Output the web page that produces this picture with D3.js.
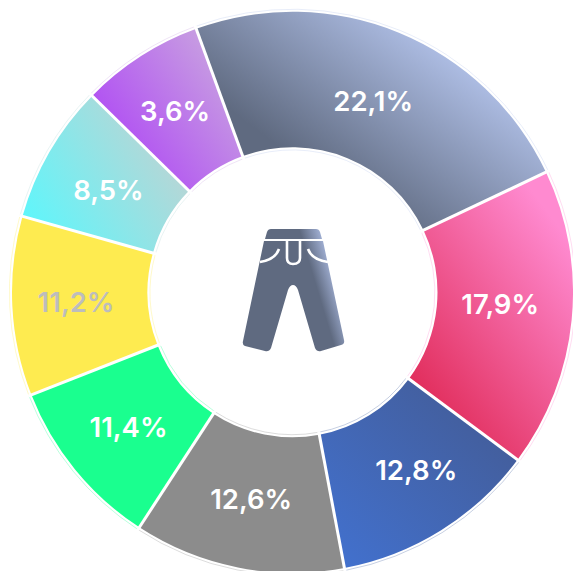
<!DOCTYPE html>
<html><head><meta charset="utf-8">
<style>html,body{margin:0;padding:0;background:#fff;overflow:hidden}svg{display:block}</style>
<script src="https://cdn.jsdelivr.net/npm/d3@7/dist/d3.min.js"></script></head>
<body><svg id="c" width="573" height="571"></svg>
<script>
const labels = ["22,1%","17,9%","12,8%","12,6%","11,4%","11,2%","8,5%","3,6%"];
const shares = [23.53,17.22,11.85,12.15,9.85,10.32,7.97,7.08];
const colorFrom = ["#5f6a80","#e2305f","#4270cc","#8c8c8c","#1aff8f","#feeb50","#5ff6fb","#b254f2"];
const colorTo   = ["#b4c4ec","#ff8ad0","#435f9f","#8c8c8c","#1aff8f","#feeb50","#b2d8d8","#c9a4e0"];
const labelColor = ["#fff","#fff","#fff","#fff","#fff","#bdbdbd","#fff","#fff"];
const gradVector = [[250,125,364,-27],[420,385,585,262],[350,565,480,430],[140,400,340,400],[30,400,210,400],[10,300,150,300],[25,220,151,139],[92,95,204,17]];
const labelNudge = [[0,6],[-4,-9],[11,-3],[0,-2],[1,0],[-4,-1],[0,4],[-2,-3]];

const W=573,H=571,cx=292.5,cy=292.3,R=280.5,r=145;
const svg=d3.select("#c");
const defs=svg.append("defs");
const start=-20.08*Math.PI/180;
const pie=d3.pie().value(d=>d).sort(null).startAngle(start).endAngle(start+2*Math.PI);
const arcs=pie(shares);
const arc=d3.arc().innerRadius(r).outerRadius(R);
const g=svg.append("g").attr("transform",`translate(${cx},${cy})`);

arcs.forEach((a,i)=>{
  const v=gradVector[i];
  const gr=defs.append("linearGradient").attr("id","g"+i).attr("gradientUnits","userSpaceOnUse")
    .attr("x1",v[0]-cx).attr("y1",v[1]-cy).attr("x2",v[2]-cx).attr("y2",v[3]-cy);
  gr.append("stop").attr("offset",0).attr("stop-color",colorFrom[i]);
  gr.append("stop").attr("offset",1).attr("stop-color",colorTo[i]);
});
const halo=d3.arc().innerRadius(r-2.6).outerRadius(R+2.6);
g.selectAll("path.halo").data(arcs).join("path").attr("class","halo")
  .attr("d",halo).attr("fill","none").attr("stroke",(d,i)=>colorTo[i]).attr("stroke-opacity",.3).attr("stroke-width",1);
g.selectAll("path.s").data(arcs).join("path").attr("class","s")
  .attr("d",arc).attr("fill",(d,i)=>`url(#g${i})`);
g.selectAll("path.sep").data(arcs).join("path").attr("class","sep")
  .attr("d",d=>{const p=d3.path();const a=d.startAngle-Math.PI/2;
    p.moveTo((r-3.5)*Math.cos(a),(r-3.5)*Math.sin(a));p.lineTo((R+3.5)*Math.cos(a),(R+3.5)*Math.sin(a));return p.toString();})
  .attr("stroke","#fff").attr("stroke-width",3).attr("fill","none");
g.selectAll("text").data(arcs).join("text")
  .attr("transform",(d,i)=>{const c=arc.centroid(d);return `translate(${c[0]+labelNudge[i][0]},${c[1]+labelNudge[i][1]})`;})
  .attr("text-anchor","middle").attr("dominant-baseline","central")
  .attr("font-family","Inter").attr("font-weight",600).attr("font-size",27.5)
  .attr("fill",(d,i)=>labelColor[i]).text((d,i)=>labels[i]);

// trousers icon
const ig=defs.append("linearGradient").attr("id","ic").attr("gradientUnits","userSpaceOnUse")
  .attr("x1",300).attr("y1",232).attr("x2",325).attr("y2",224.5);
ig.append("stop").attr("offset",0).attr("stop-color","#5f6a80");
ig.append("stop").attr("offset",1).attr("stop-color","#b4c4ec");
const icon=svg.append("g");
icon.append("path").attr("fill","url(#ic)").attr("d",
 "M271 229H316Q319 229 320 232L322 239H265L267 232Q268 229 271 229Z"+
 "M264 241H323L344 340Q345 344 341 345L321 351Q317 352 315 348L298 290Q296 285 293 285Q290 285 288 290L271 348Q269 352 265 351L245 346Q242 345 243 341Z");
icon.append("path").attr("fill","none").attr("stroke","#fff").attr("stroke-width",2.6).attr("d",
 "M279 249Q275 260 260 262M308 249Q312 260 328 262M287 241V258Q287 264 293 264Q300 264 300 258V241");
</script></body></html>
